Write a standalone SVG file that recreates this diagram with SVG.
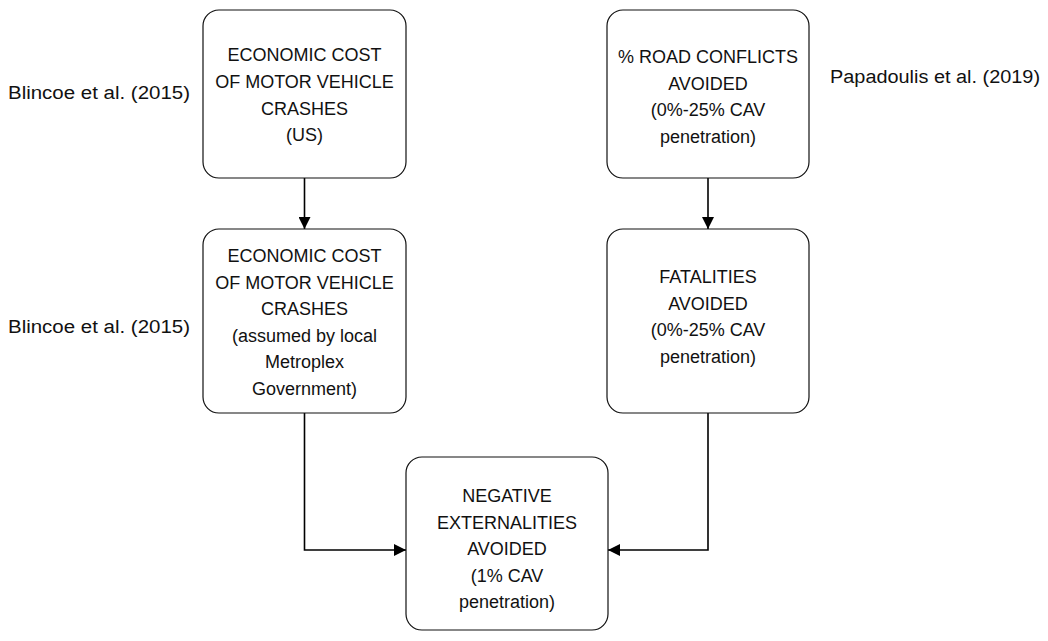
<svg xmlns="http://www.w3.org/2000/svg" width="1048" height="641" viewBox="0 0 1048 641">
  <style>
    .box { fill: #ffffff; stroke: #111111; stroke-width: 1.2; }
    .lbl { font-family: "Liberation Sans", Arial, sans-serif; font-size: 18px; fill: #111111; text-anchor: middle; }
    .src { font-family: "Liberation Sans", Arial, sans-serif; font-size: 18px; fill: #111111; }
    .edge { fill: none; stroke: #000000; stroke-width: 1.6; }
  </style>
  <defs>
    <marker id="arrow" viewBox="0 0 12 12" refX="12" refY="6" markerWidth="12" markerHeight="12" markerUnits="userSpaceOnUse" orient="auto">
      <path d="M0,0 L12,6 L0,12 Z" fill="#000000"/>
    </marker>
  </defs>
  <rect width="1048" height="641" fill="#ffffff"/>

  <!-- source citations -->
  <text class="src" x="8" y="99" textLength="182" lengthAdjust="spacingAndGlyphs">Blincoe et al. (2015)</text>
  <text class="src" x="8" y="333" textLength="182" lengthAdjust="spacingAndGlyphs">Blincoe et al. (2015)</text>
  <text class="src" x="830" y="83" textLength="210" lengthAdjust="spacingAndGlyphs">Papadoulis et al. (2019)</text>

  <!-- connectors -->
  <g id="connectors">
    <line class="edge" x1="304.5" y1="178" x2="304.5" y2="229" marker-end="url(#arrow)"/>
    <line class="edge" x1="708" y1="178" x2="708" y2="229" marker-end="url(#arrow)"/>
    <polyline class="edge" points="304.5,413 304.5,550 406,550" marker-end="url(#arrow)"/>
    <polyline class="edge" points="708,413 708,550 608,550" marker-end="url(#arrow)"/>
  </g>

  <g id="cost-us">
    <rect class="box" x="203" y="10" width="203" height="168" rx="16"/>
    <text class="lbl" x="304.5" y="61">ECONOMIC COST</text>
    <text class="lbl" x="304.5" y="88">OF MOTOR VEHICLE</text>
    <text class="lbl" x="304.5" y="114.5">CRASHES</text>
    <text class="lbl" x="304.5" y="141">(US)</text>
  </g>

  <g id="cost-local">
    <rect class="box" x="203" y="229" width="203" height="184" rx="16"/>
    <text class="lbl" x="304.5" y="262">ECONOMIC COST</text>
    <text class="lbl" x="304.5" y="288.5">OF MOTOR VEHICLE</text>
    <text class="lbl" x="304.5" y="315">CRASHES</text>
    <text class="lbl" x="304.5" y="341.5">(assumed by local</text>
    <text class="lbl" x="304.5" y="368">Metroplex</text>
    <text class="lbl" x="304.5" y="394.5">Government)</text>
  </g>

  <g id="conflicts">
    <rect class="box" x="607" y="10" width="202" height="168" rx="16"/>
    <text class="lbl" x="708" y="63">% ROAD CONFLICTS</text>
    <text class="lbl" x="708" y="89.5">AVOIDED</text>
    <text class="lbl" x="708" y="116">(0%-25% CAV</text>
    <text class="lbl" x="708" y="142.5">penetration)</text>
  </g>

  <g id="fatalities">
    <rect class="box" x="607" y="229" width="202" height="184" rx="16"/>
    <text class="lbl" x="708" y="283">FATALITIES</text>
    <text class="lbl" x="708" y="309.5">AVOIDED</text>
    <text class="lbl" x="708" y="336">(0%-25% CAV</text>
    <text class="lbl" x="708" y="362.5">penetration)</text>
  </g>

  <g id="externalities">
    <rect class="box" x="406" y="457" width="202" height="173" rx="16"/>
    <text class="lbl" x="507" y="502">NEGATIVE</text>
    <text class="lbl" x="507" y="528.5">EXTERNALITIES</text>
    <text class="lbl" x="507" y="555">AVOIDED</text>
    <text class="lbl" x="507" y="581.5">(1% CAV</text>
    <text class="lbl" x="507" y="608">penetration)</text>
  </g>
</svg>
